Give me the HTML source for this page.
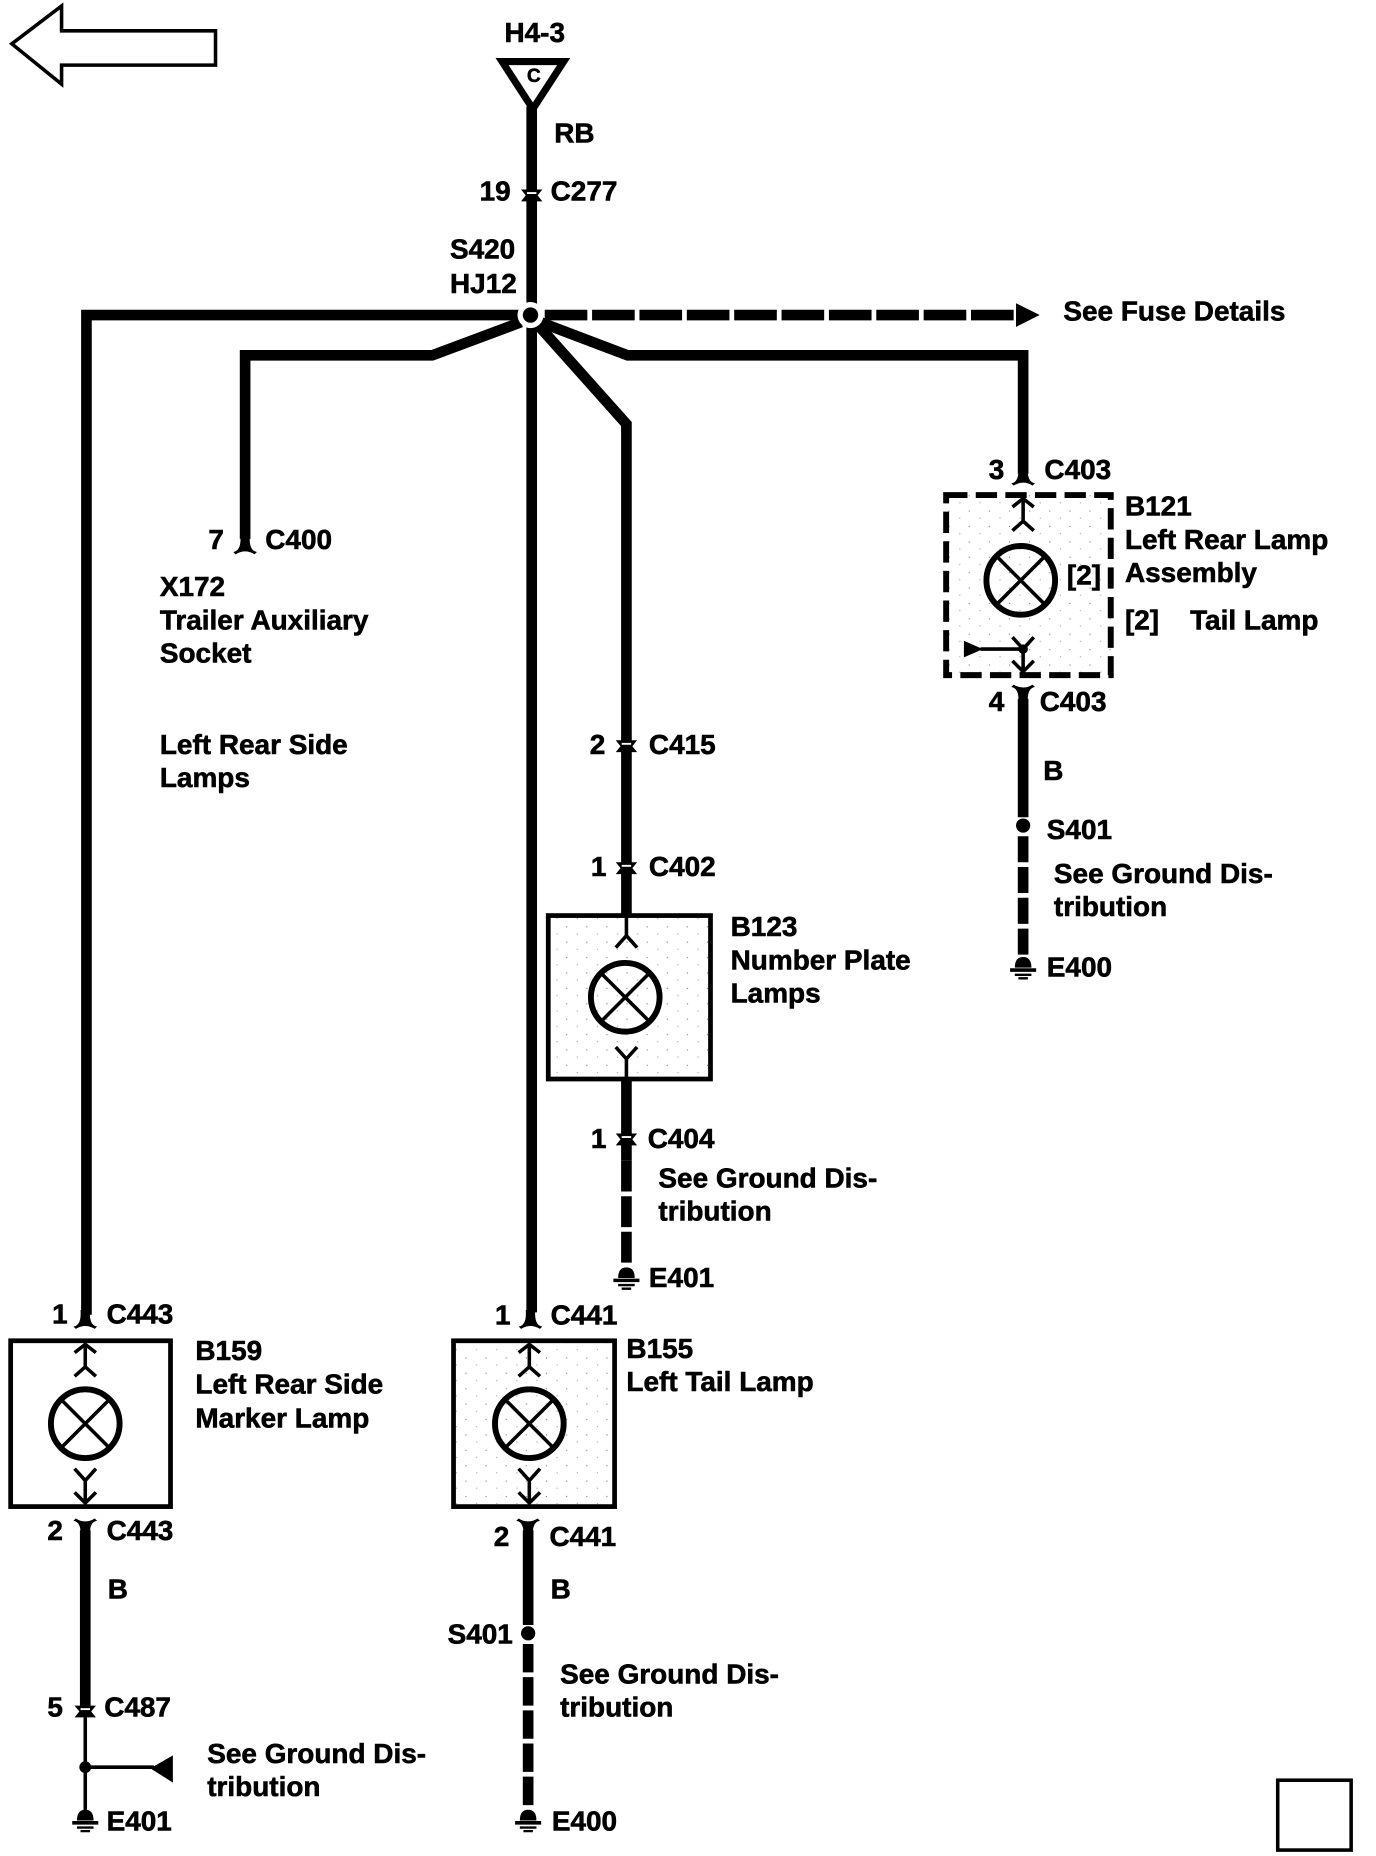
<!DOCTYPE html>
<html><head><meta charset="utf-8"><style>
html,body{margin:0;padding:0;background:#fff;width:1376px;height:1856px;overflow:hidden}
svg{display:block}
text{font-family:"Liberation Sans",sans-serif;font-weight:700;font-size:23.6px;fill:#000;stroke:#000;stroke-width:.5;transform:translateY(-.6px)}
.w{fill:none;stroke:#000;stroke-width:9}
.b{fill:none;stroke:#000;stroke-width:5}
.t{fill:none;stroke:#000;stroke-width:3}
</style></head><body>
<svg width="1376" height="1856" viewBox="0 0 1162 1567" preserveAspectRatio="none" xmlns="http://www.w3.org/2000/svg">
<defs>
<pattern id="st" width="17" height="13" patternUnits="userSpaceOnUse"><rect x="2" y="2" width="1" height="1" fill="#888"/><rect x="11" y="8" width="1" height="1" fill="#aaa"/></pattern>
<g id="lamp"><circle r="29" fill="none" stroke="#000" stroke-width="5"/><path d="M-20-20L20 20M20-20L-20 20" fill="none" stroke="#000" stroke-width="3"/></g>
<g id="ftop"><path d="M-9 10L0 3L9 10M0 3V22M-9 30L0 22L9 30" fill="none" stroke="#000" stroke-width="3"/></g>
<g id="fbot"><path d="M-9-32L0-22L9-32M0-22V-3M-9-12L0-3L9-12" fill="none" stroke="#000" stroke-width="3"/></g>
<g id="cup"><path d="M-10 6Q-3 5-4-8H4Q3 5 10 6L8 8Q0 3-8 8Z"/></g>
<g id="cdn"><path d="M-10-6Q-3-5-4 8H4Q3-5 10-6L8-8Q0-3-8-8Z"/></g>
<g id="blob"><path d="M-9-5H9L5 0L9 5H-9L-5 0Z"/><circle r="5"/><path d="M-4-2H4" fill="none" stroke="#fff" stroke-width="1.6"/></g>
<g id="gnd"><path d="M-7 0Q-7-9 0-9Q7-9 7 0Z"/><path d="M-11 2H11" stroke="#000" stroke-width="3"/><path d="M-7 6H7M-4 9H4" stroke="#000" stroke-width="2"/></g>
</defs>

<!-- back arrow -->
<path d="M10 37L52 5V26H182V55H52V71Z" fill="none" stroke="#000" stroke-width="3"/>

<!-- top -->
<text x="426" y="36">H4-3</text>
<path d="M424 52H476L450 92Z" fill="none" stroke="#000" stroke-width="6"/>
<text x="445" y="70" style="font-size:16px">C</text>
<path class="w" d="M449 90V1108"/>
<text x="468" y="121">RB</text>
<text x="405" y="170">19</text><text x="465" y="170">C277</text>
<use href="#blob" x="449" y="165"/>
<text x="380" y="219">S420</text><text x="380" y="248">HJ12</text>

<!-- wires from splice -->
<path class="w" d="M440 266H73V1110"/>
<path class="w" d="M440 272L365 300H207V455"/>
<path class="w" d="M456 272L530 300H864V400"/>
<path class="w" d="M454 274L529 358V772"/>
<path class="w" d="M460 266H858" stroke-dasharray="36 4"/>
<path d="M858 256L878 266L858 276Z"/>
<text x="898" y="271">See Fuse Details</text>
<circle cx="448" cy="266" r="11" fill="#fff"/>
<circle cx="448" cy="266" r="6.5"/>

<!-- C400 -->
<use href="#cup" x="207" y="460"/>
<text x="176" y="464">7</text><text x="224" y="464">C400</text>
<text x="135" y="504">X172</text>
<text x="135" y="532">Trailer Auxiliary</text>
<text x="135" y="560">Socket</text>
<text x="135" y="637">Left Rear Side</text>
<text x="135" y="665">Lamps</text>

<!-- B121 -->
<rect x="799" y="418" width="139" height="152" fill="url(#st)" stroke="#000" stroke-width="5" stroke-dasharray="18 7"/>
<use href="#cup" x="864" y="402"/>
<text x="835" y="405">3</text><text x="882" y="405">C403</text>
<use href="#ftop" x="864" y="418"/>
<use href="#lamp" x="862" y="490"/>
<use href="#fbot" x="864" y="570"/>
<path d="M814 541V555L830 548Z"/><path class="t" d="M828 548H864"/><circle cx="864" cy="548" r="4"/>
<text x="901" y="494">[2]</text>
<text x="950" y="436">B121</text>
<text x="950" y="464">Left Rear Lamp</text>
<text x="950" y="492">Assembly</text>
<text x="950" y="532">[2]</text><text x="1005" y="532">Tail Lamp</text>
<use href="#cdn" x="864" y="586"/>
<text x="835" y="601">4</text><text x="878" y="601">C403</text>
<path class="w" d="M864 590V690"/>
<text x="881" y="659">B</text>
<circle cx="864" cy="697" r="6"/>
<text x="884" y="709">S401</text>
<path class="w" d="M864 706V808" stroke-dasharray="22 4"/>
<text x="890" y="746">See Ground Dis-</text>
<text x="890" y="774">tribution</text>
<use href="#gnd" x="864" y="817"/>
<text x="884" y="825">E400</text>

<!-- B123 -->
<use href="#blob" x="529" y="630"/>
<text x="498" y="637">2</text><text x="548" y="637">C415</text>
<use href="#blob" x="529" y="733"/>
<text x="499" y="740">1</text><text x="548" y="740">C402</text>
<rect x="463" y="773" width="137" height="138" fill="url(#st)" stroke="#000" stroke-width="4"/>
<path d="M529 773V790M520 800L529 790L538 800" fill="none" stroke="#000" stroke-width="3"/>
<use href="#lamp" x="528" y="842"/>
<path d="M520 884L529 894L538 884M529 894V911" fill="none" stroke="#000" stroke-width="3"/>
<text x="617" y="791">B123</text>
<text x="617" y="819">Number Plate</text>
<text x="617" y="847">Lamps</text>
<path class="w" d="M529 911V980"/>
<use href="#blob" x="529" y="962"/>
<text x="499" y="970">1</text><text x="547" y="970">C404</text>
<path class="w" d="M529 980V1070" stroke-dasharray="26 4"/>
<text x="556" y="1003">See Ground Dis-</text>
<text x="556" y="1031">tribution</text>
<use href="#gnd" x="529" y="1079"/>
<text x="548" y="1087">E401</text>

<!-- B159 -->
<use href="#cup" x="72" y="1114"/>
<text x="44" y="1118">1</text><text x="90" y="1118">C443</text>
<rect x="9" y="1132" width="135" height="140" fill="none" stroke="#000" stroke-width="4"/>
<use href="#ftop" x="72" y="1132"/>
<use href="#lamp" x="72" y="1202"/>
<use href="#fbot" x="72" y="1272"/>
<text x="165" y="1149">B159</text>
<text x="165" y="1177">Left Rear Side</text>
<text x="165" y="1206">Marker Lamp</text>
<use href="#cdn" x="72" y="1290"/>
<text x="40" y="1301">2</text><text x="90" y="1301">C443</text>
<path class="w" d="M72 1292V1442"/>
<text x="91" y="1350">B</text>
<use href="#blob" x="72" y="1445"/>
<text x="40" y="1450">5</text><text x="88" y="1450">C487</text>
<path class="t" d="M72 1450V1530M72 1492H130"/>
<circle cx="72" cy="1492" r="5"/>
<path d="M146 1482V1505L127 1493Z"/>
<text x="175" y="1489">See Ground Dis-</text>
<text x="175" y="1517">tribution</text>
<use href="#gnd" x="72" y="1537"/>
<text x="90" y="1546">E401</text>

<!-- B155 -->
<use href="#cup" x="448" y="1114"/>
<text x="418" y="1119">1</text><text x="465" y="1119">C441</text>
<rect x="383" y="1132" width="136" height="140" fill="url(#st)" stroke="#000" stroke-width="4"/>
<use href="#ftop" x="447" y="1132"/>
<use href="#lamp" x="447" y="1202"/>
<use href="#fbot" x="447" y="1272"/>
<text x="529" y="1147">B155</text>
<text x="529" y="1175">Left Tail Lamp</text>
<use href="#cdn" x="446" y="1290"/>
<text x="417" y="1306">2</text><text x="464" y="1306">C441</text>
<path class="w" d="M446 1292V1372"/>
<text x="465" y="1350">B</text>
<circle cx="446" cy="1379" r="6"/>
<text x="378" y="1388">S401</text>
<path class="w" d="M446 1388V1527" stroke-dasharray="24 4"/>
<text x="473" y="1422">See Ground Dis-</text>
<text x="473" y="1450">tribution</text>
<use href="#gnd" x="446" y="1537"/>
<text x="466" y="1546">E400</text>

<!-- corner box -->
<rect x="1079" y="1503" width="62" height="59" fill="none" stroke="#000" stroke-width="3"/>
</svg>
</body></html>
